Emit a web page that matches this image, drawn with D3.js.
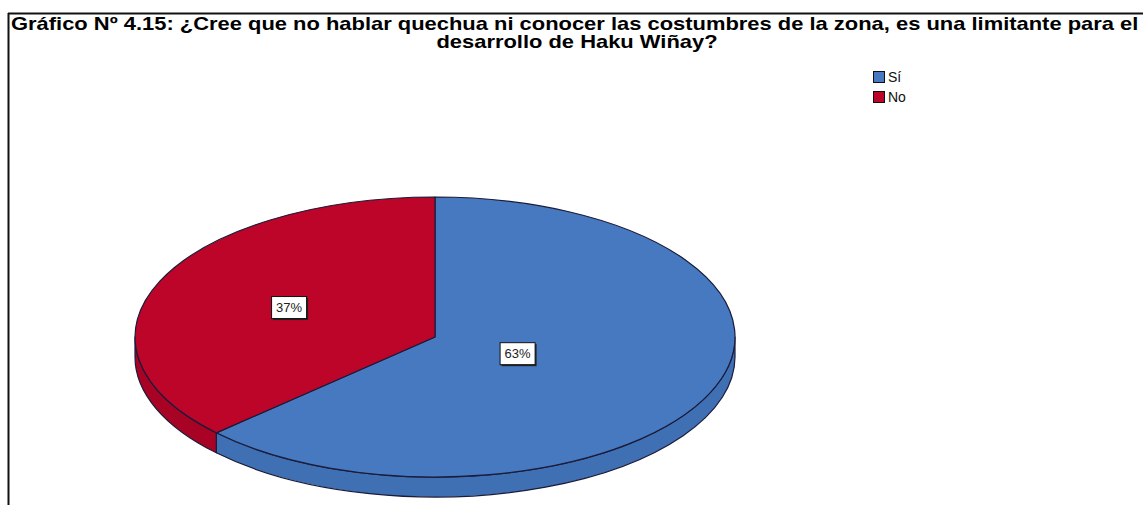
<!DOCTYPE html>
<html>
<head>
<meta charset="utf-8">
<script src="https://cdn.jsdelivr.net/npm/d3@7"></script>
<style>
  html, body { margin: 0; padding: 0; background: #fff; }
  svg { display: block; }
</style>
</head>
<body>
<svg id="chart" width="1143" height="505"></svg>
<script>
// ---- data ----
const titleLines = [
  "Gráfico Nº 4.15: ¿Cree que no hablar quechua ni conocer las costumbres de la zona, es una limitante para el",
  "desarrollo de Haku Wiñay?"
];
const categories = ["Sí", "No"];
const values = [63, 37];
const valueLabels = ["63%", "37%"];
const colors = ["#4679c0", "#bd0429"];
const sideColors = ["#3f70b4", "#a80325"];

// ---- layout ----
const svg = d3.select("#chart");
const W = 1143, H = 505;
const cx = 435, cy = 337, rx = 300, ry = 140, depth = 20;

// frame
svg.append("line").attr("x1", 8).attr("x2", W).attr("y1", 13.5).attr("y2", 13.5)
  .attr("stroke", "#111").attr("stroke-width", 2);
svg.append("line").attr("x1", 8.5).attr("x2", 8.5).attr("y1", 13).attr("y2", H)
  .attr("stroke", "#111").attr("stroke-width", 2);

// title (horizontally scaled so line 1 spans the frame like the reference)
const fontT = "Liberation Sans, Arial, sans-serif";
const t1 = svg.append("text").attr("x", 0).attr("y", 0)
  .attr("font-family", fontT).attr("font-weight", "bold").attr("font-size", 17.5)
  .attr("fill", "#000").text(titleLines[0]);
const natural = t1.node().getComputedTextLength();
const sx = 1128 / natural;
t1.attr("transform", `translate(11,30) scale(${sx},1)`);
svg.append("text").attr("x", 0).attr("y", 0).attr("text-anchor", "middle")
  .attr("font-family", fontT).attr("font-weight", "bold").attr("font-size", 17.5)
  .attr("fill", "#000").attr("transform", `translate(577,48) scale(${sx},1)`)
  .text(titleLines[1]);

// pie
const pie = d3.pie().sort(null).startAngle(0).endAngle(2 * Math.PI);
const arcs = pie(values);
const pt = (a, dy = 0) => [cx + rx * Math.sin(a), cy - ry * Math.cos(a) + dy];

const g = svg.append("g");

// side walls (front half only)
arcs.forEach((d, i) => {
  const s = Math.max(d.startAngle, Math.PI / 2);
  const e = Math.min(d.endAngle, 3 * Math.PI / 2);
  if (e <= s) return;
  const p0 = pt(s), p1 = pt(e), q1 = pt(e, depth), q0 = pt(s, depth);
  const large = (e - s) > Math.PI ? 1 : 0;
  const path = `M${p0[0]},${p0[1]} A${rx},${ry} 0 ${large} 1 ${p1[0]},${p1[1]} L${q1[0]},${q1[1]} A${rx},${ry} 0 ${large} 0 ${q0[0]},${q0[1]} Z`;
  g.append("path").attr("d", path).attr("fill", sideColors[i])
    .attr("stroke", "#1b1b3a").attr("stroke-width", 1.2).attr("stroke-linejoin", "round");
});

// top faces
arcs.forEach((d, i) => {
  const p0 = pt(d.startAngle), p1 = pt(d.endAngle);
  const large = (d.endAngle - d.startAngle) > Math.PI ? 1 : 0;
  const path = `M${cx},${cy} L${p0[0]},${p0[1]} A${rx},${ry} 0 ${large} 1 ${p1[0]},${p1[1]} Z`;
  g.append("path").attr("d", path).attr("fill", colors[i])
    .attr("stroke", "#1b1b3a").attr("stroke-width", 1.2).attr("stroke-linejoin", "round");
});

// value labels
const labelFrac = [0.30, 0.53];
arcs.forEach((d, i) => {
  const mid = (d.startAngle + d.endAngle) / 2;
  const x = cx + rx * labelFrac[i] * Math.sin(mid);
  const y = cy - ry * labelFrac[i] * Math.cos(mid);
  const lg = svg.append("g");
  const bw = 35, bh = 22;
  lg.append("rect").attr("x", x - bw / 2 + 1.5).attr("y", y - bh / 2 + 1.5)
    .attr("width", bw).attr("height", bh).attr("fill", "#222");
  lg.append("rect").attr("x", x - bw / 2).attr("y", y - bh / 2)
    .attr("width", bw).attr("height", bh).attr("fill", "#fff")
    .attr("stroke", "#111").attr("stroke-width", 1);
  lg.append("text").attr("x", x).attr("y", y + 4.5)
    .attr("text-anchor", "middle")
    .attr("font-family", fontT).attr("font-size", 13).attr("fill", "#222")
    .text(valueLabels[i]);
});

// legend
const leg = svg.append("g");
categories.forEach((c, i) => {
  const y0 = 71 + i * 20;
  leg.append("rect").attr("x", 873.5).attr("y", y0 + 0.5).attr("width", 11).attr("height", 11)
    .attr("fill", colors[i]).attr("stroke", "#111").attr("stroke-width", 1);
  leg.append("text").attr("x", 888).attr("y", y0 + 11)
    .attr("font-family", fontT).attr("font-size", 14).attr("fill", "#111")
    .text(c);
});
</script>
</body>
</html>
